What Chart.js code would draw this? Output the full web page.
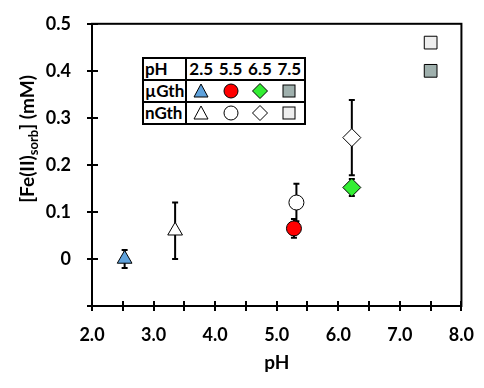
<!DOCTYPE html>
<html>
<head>
<meta charset="utf-8">
<script src="https://cdn.jsdelivr.net/npm/chart.js@4.4.1/dist/chart.umd.min.js"></script>
<style>
  body { margin: 0; background: #fff; }
  #wrap { position: relative; width: 484px; height: 388px; font-family: Lato, sans-serif; }
  #ytitle {
    position: absolute; left: -73px; top: 126px; width: 200px; height: 26px;
    line-height: 26px; text-align: center; font-weight: bold; font-size: 19px;
    transform: rotate(-90deg); color: #000; white-space: nowrap;
  }
  #ytitle sub { font-size: 13px; vertical-align: -4px; line-height: 0; }
  #leg {
    position: absolute; left: 142px; top: 57px; border-collapse: collapse;
    table-layout: fixed; width: 164px;
    border: 2px solid #000; font-weight: bold; font-size: 17px; background: #fff;
  }
  #leg td { height: 20px; padding: 0; text-align: center; line-height: 20px; white-space: nowrap; overflow: hidden; }
  #leg tr + tr td { border-top: 2px solid #000; }
  #leg td.lab { width: 39px; border-right: 2px solid #000; text-align: left; padding-left: 1px; }
  #leg td.v { width: 29px; }
  #leg svg { display: block; margin: 0 auto; }
</style>
</head>
<body>
<div id="wrap">
  <canvas id="grafica" width="484" height="388"></canvas>
  <div id="ytitle">[Fe(II)<sub>sorb</sub>] (mM)</div>
  <table id="leg">
    <tr><td class="lab">pH</td><td class="v">2.5</td><td class="v">5.5</td><td class="v">6.5</td><td class="v">7.5</td></tr>
    <tr><td class="lab">µGth</td>
      <td class="v"><svg width="16" height="16"><polygon points="8,1 15,14 1,14" fill="#5fa2dc" stroke="#000" stroke-width="1"/></svg></td>
      <td class="v"><svg width="16" height="16"><circle cx="8" cy="8" r="7" fill="#ff0000" stroke="#000" stroke-width="1"/></svg></td>
      <td class="v"><svg width="16" height="16"><polygon points="8,0.5 15.5,8 8,15.5 0.5,8" fill="#33ee33" stroke="#000" stroke-width="1"/></svg></td>
      <td class="v"><svg width="16" height="16"><rect x="2" y="2" width="12" height="12" fill="#9fb0ad" stroke="#000" stroke-width="1"/></svg></td>
    </tr>
    <tr><td class="lab">nGth</td>
      <td class="v"><svg width="16" height="16"><polygon points="8,1 15,14 1,14" fill="#fff" stroke="#000" stroke-width="1"/></svg></td>
      <td class="v"><svg width="16" height="16"><circle cx="8" cy="8" r="7" fill="#fff" stroke="#000" stroke-width="1"/></svg></td>
      <td class="v"><svg width="16" height="16"><polygon points="8,0.5 15.5,8 8,15.5 0.5,8" fill="#fff" stroke="#000" stroke-width="1"/></svg></td>
      <td class="v"><svg width="16" height="16"><rect x="2" y="2" width="12" height="12" fill="#eeeeee" stroke="#000" stroke-width="1"/></svg></td>
    </tr>
  </table>
</div>
<script>
// datos
const uGth_pH = [2.53, 5.28, 6.22, 7.5];
const uGth_fe = [0.0, 0.065, 0.152, 0.40];
const uGth_err = [0.019, 0.02, 0.018, 0];

const nGth_pH = [3.35, 5.32, 6.22, 7.5];
const nGth_fe = [0.06, 0.12, 0.258, 0.46];
const nGth_err = [0.06, 0.04, 0.08, 0];

const formas = ['triangle', 'circle', 'rectRot', 'rect'];
const radios = [8.5, 7.5, 9, 9];
const coloresU = ['#5fa2dc', '#ff0000', '#33ee33', '#9fb0ad'];
const coloresN = ['#ffffff', '#ffffff', '#ffffff', '#eeeeee'];

const toPts = (xs, ys) => xs.map((x, i) => ({ x: x, y: ys[i] }));

// barras de error detras de los simbolos
const barrasError = {
  id: 'barrasError',
  beforeDatasetsDraw(chart) {
    const ctx = chart.ctx;
    const xs = chart.scales.x, ys = chart.scales.y;
    const series = [[uGth_pH, uGth_fe, uGth_err], [nGth_pH, nGth_fe, nGth_err]];
    ctx.save();
    ctx.strokeStyle = '#000';
    ctx.lineWidth = 2;
    series.forEach(([px, py, pe]) => {
      px.forEach((x, i) => {
        if (!pe[i]) return;
        const cx = xs.getPixelForValue(x);
        const top = ys.getPixelForValue(py[i] + pe[i]);
        const bot = ys.getPixelForValue(py[i] - pe[i]);
        ctx.beginPath();
        ctx.moveTo(cx, top); ctx.lineTo(cx, bot);
        ctx.moveTo(cx - 3, top); ctx.lineTo(cx + 3, top);
        ctx.moveTo(cx - 3, bot); ctx.lineTo(cx + 3, bot);
        ctx.stroke();
      });
    });
    ctx.restore();
  }
};

// marco y marcas de los ejes
const marco = {
  id: 'marco',
  afterDraw(chart) {
    const ctx = chart.ctx;
    const a = chart.chartArea;
    ctx.save();
    ctx.strokeStyle = '#000';
    ctx.lineWidth = 2;
    ctx.strokeRect(a.left, a.top, a.right - a.left, a.bottom - a.top);
    ctx.beginPath();
    chart.scales.y.ticks.forEach(t => {
      const y = Math.round(chart.scales.y.getPixelForValue(t.value));
      ctx.moveTo(a.left - 5, y); ctx.lineTo(a.left + 6, y);
    });
    chart.scales.x.ticks.forEach(t => {
      const x = Math.round(chart.scales.x.getPixelForValue(t.value));
      ctx.moveTo(x, a.bottom - 5); ctx.lineTo(x, a.bottom + 5);
    });
    ctx.stroke();
    ctx.restore();
  }
};

const fuente = { family: 'Lato', weight: 'bold', size: 18 };

new Chart(document.getElementById('grafica').getContext('2d'), {
  type: 'scatter',
  data: {
    datasets: [
      {
        label: 'µGth',
        data: toPts(uGth_pH, uGth_fe),
        pointStyle: formas,
        pointRadius: radios,
        pointHoverRadius: radios,
        backgroundColor: coloresU,
        borderColor: '#000',
        borderWidth: 1
      },
      {
        label: 'nGth',
        data: toPts(nGth_pH, nGth_fe),
        pointStyle: formas,
        pointRadius: radios,
        pointHoverRadius: radios,
        backgroundColor: coloresN,
        borderColor: '#000',
        borderWidth: 1
      }
    ]
  },
  options: {
    responsive: false,
    animation: false,
    devicePixelRatio: 1,
    layout: { padding: { left: 0, top: 17, right: 21, bottom: 0 } },
    plugins: { legend: { display: false }, tooltip: { enabled: false } },
    scales: {
      x: {
        type: 'linear',
        min: 2, max: 8,
        grid: { display: false },
        border: { display: false },
        ticks: {
          stepSize: 0.5, autoSkip: false, maxRotation: 0, padding: 10,
          color: '#000', font: fuente,
          callback: v => Number.isInteger(v) ? v.toFixed(1) : ''
        },
        title: { display: true, text: 'pH', color: '#000',
                 font: { family: 'Lato', weight: 'bold', size: 19 },
                 padding: { top: 0, bottom: 14 } },
        afterFit: s => { s.height = 82; }
      },
      y: {
        min: -0.1, max: 0.5,
        grid: { display: false },
        border: { display: false },
        ticks: {
          stepSize: 0.1, padding: 13, color: '#000', font: fuente,
          callback: v => v < -0.001 ? '' : (Math.abs(v) < 0.001 ? '0' : v.toFixed(1))
        },
        afterFit: s => { s.width = 92; }
      }
    }
  },
  plugins: [barrasError, marco]
});
</script>
</body>
</html>
